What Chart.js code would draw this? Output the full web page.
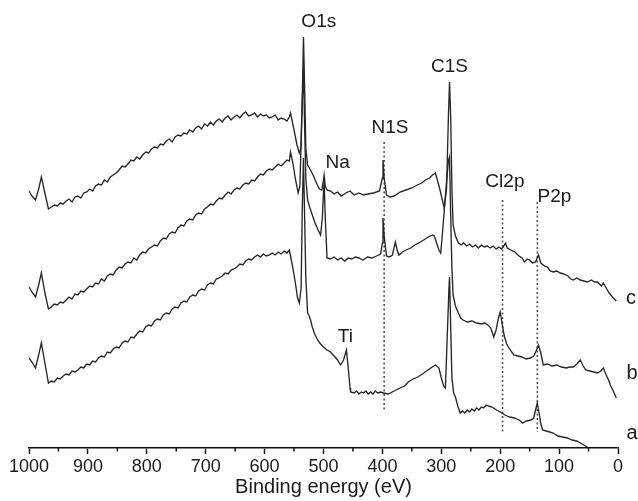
<!DOCTYPE html>
<html>
<head>
<meta charset="utf-8">
<script src="https://cdn.jsdelivr.net/npm/chart.js@4.4.1/dist/chart.umd.min.js"></script>
<style>
  html, body { margin: 0; padding: 0; background: #fff; }
</style>
</head>
<body>
<canvas id="xpsChart" width="638" height="501"></canvas>
<script>
// spectrum a (bottom)
const energyA = [
  1000, 995, 989, 984, 979, 973, 967, 962, 957, 952,
  947, 942, 937, 932, 927, 922, 917, 912, 907, 902,
  897, 892, 887, 882, 877, 872, 867, 862, 857, 852,
  847, 842, 837, 832, 827, 822, 817, 812, 807, 802,
  797, 792, 787, 782, 777, 772, 767, 762, 757, 752,
  747, 742, 737, 732, 727, 722, 717, 712, 707, 702,
  697, 692, 687, 682, 677, 672, 667, 662, 657, 652,
  647, 642, 637, 632, 627, 622, 617, 612, 607, 602,
  597, 592, 587, 582, 577, 572, 567, 562, 558, 556,
  552, 548, 544, 541, 538, 536, 534, 532, 530, 527,
  525, 522, 519, 515, 510, 505, 500, 494, 488, 482,
  476, 471, 466, 461, 458, 455, 454, 448, 444, 440,
  436, 432, 428, 424, 420, 416, 412, 408, 403, 398,
  390, 380, 370, 362, 356, 348, 340, 332, 325, 318,
  310, 304, 300, 296, 293, 290, 287, 286, 284, 282,
  279, 276, 272, 268, 264, 260, 256, 252, 248, 244,
  240, 236, 232, 228, 224, 220, 214, 206, 200, 192,
  184, 176, 168, 162, 155, 148, 143, 140, 137, 134,
  131, 128, 122, 116, 110, 102, 94, 86, 78, 70,
  64, 58, 52
];
const countsA = [
  90, 86, 80, 92, 105, 85, 65, 67, 66, 70,
  69, 72, 74, 73, 77, 76, 78, 81, 80, 84,
  83, 87, 86, 90, 92, 91, 96, 95, 99, 101,
  100, 105, 107, 106, 111, 110, 114, 117, 116, 121,
  123, 122, 127, 129, 128, 133, 135, 134, 139, 141,
  140, 145, 147, 146, 151, 153, 152, 157, 159, 158,
  163, 165, 164, 169, 170, 172, 175, 174, 178, 179,
  181, 184, 183, 187, 189, 188, 191, 193, 191, 194,
  192, 193, 195, 193, 196, 194, 197, 195, 198, 192,
  180, 166, 150, 145, 160, 240, 290, 230, 170, 135,
  133, 128, 121, 114, 108, 104, 101, 98, 96, 92,
  88, 83, 88, 98, 80, 60, 56, 55, 57, 54,
  56, 55, 57, 54, 56, 54, 57, 55, 56, 55,
  54, 57, 60, 62, 66, 69, 71, 74, 77, 80,
  83, 80, 70, 62, 60, 110, 160, 171, 120, 70,
  55, 51, 42, 35, 37, 35, 38, 36, 39, 37,
  40, 38, 41, 40, 43, 42, 41, 38, 36, 33,
  31, 30, 28, 25, 27, 28, 30, 38, 45, 35,
  24, 18, 17, 16, 15, 12, 11, 10, 8, 7,
  5, 3, 1
];

// spectrum b (middle)
const energyB = [
  1000, 995, 989, 984, 979, 973, 967, 962, 957, 952,
  947, 942, 937, 932, 927, 922, 917, 912, 907, 902,
  897, 892, 887, 882, 877, 872, 867, 862, 857, 852,
  847, 842, 837, 832, 827, 822, 817, 812, 807, 802,
  797, 792, 787, 782, 777, 772, 767, 762, 757, 752,
  747, 742, 737, 732, 727, 722, 717, 712, 707, 702,
  697, 692, 687, 682, 677, 672, 667, 662, 657, 652,
  647, 642, 637, 632, 627, 622, 617, 612, 607, 602,
  597, 592, 587, 582, 577, 572, 567, 562, 558, 556,
  552, 548, 543, 540, 537, 534, 532, 530, 527, 523,
  519, 515, 510, 505, 502, 499, 497, 494, 488, 482,
  476, 470, 464, 458, 452, 446, 440, 433, 425, 418,
  410, 403, 400, 399, 397, 393, 388, 383, 378, 375,
  372, 366, 360, 352, 345, 338, 330, 322, 315, 312,
  308, 304, 301, 298, 292, 288, 286, 284, 282, 280,
  276, 271, 267, 263, 256, 248, 240, 232, 226, 221,
  216, 211, 207, 203, 200, 197, 193, 189, 184, 177,
  170, 163, 156, 149, 143, 139, 135, 131, 127, 120,
  112, 104, 96, 88, 82, 76, 70, 64, 60, 55,
  48, 41, 35, 29, 25, 20, 16, 13, 8, 3
];
const countsB = [
  161, 156, 151, 162, 175, 155, 139, 141, 144, 143,
  146, 145, 148, 151, 149, 154, 153, 157, 156, 159,
  162, 161, 165, 164, 169, 167, 172, 174, 173, 178,
  181, 180, 184, 186, 185, 190, 188, 193, 196, 195,
  199, 201, 203, 202, 207, 210, 209, 214, 216, 215,
  220, 223, 222, 227, 229, 228, 233, 235, 234, 239,
  241, 244, 243, 247, 250, 249, 253, 256, 254, 258,
  260, 259, 263, 265, 264, 268, 267, 271, 274, 273,
  277, 279, 278, 281, 284, 282, 285, 288, 287, 296,
  285, 270, 255, 262, 330, 380, 320, 270, 248, 240,
  233, 226, 219, 213, 230, 268, 230, 190, 189, 191,
  188, 190, 187, 190, 189, 191, 190, 188, 191, 190,
  192, 194, 205, 230, 212, 192, 191, 193, 206, 198,
  193, 196, 198, 200, 203, 205, 208, 211, 213, 212,
  205, 198, 195, 215, 260, 287, 291, 230, 180, 153,
  142, 135, 130, 128, 126, 127, 125, 124, 125, 123,
  120, 111, 118, 130, 136, 125, 112, 104, 99, 93,
  92, 91, 89, 90, 92, 97, 103, 95, 83, 84,
  82, 83, 81, 80, 81, 81, 84, 88, 83, 78,
  77, 76, 75, 77, 80, 73, 68, 63, 57, 50
];

// spectrum c (top)
const energyC = [
  1000, 995, 989, 984, 979, 973, 967, 962, 957, 952,
  947, 942, 937, 932, 927, 922, 917, 912, 907, 902,
  897, 892, 887, 882, 877, 872, 867, 862, 857, 852,
  847, 842, 837, 832, 827, 822, 817, 812, 807, 802,
  797, 792, 787, 782, 777, 772, 767, 762, 757, 752,
  747, 742, 737, 732, 727, 722, 717, 712, 707, 702,
  697, 692, 687, 682, 677, 672, 667, 662, 657, 652,
  647, 642, 637, 632, 627, 622, 617, 612, 607, 602,
  597, 592, 587, 582, 577, 572, 567, 562, 558, 556,
  550, 545, 541, 538, 535, 534, 532, 530, 527, 522,
  517, 512, 507, 503, 500, 499, 497, 494, 488, 482,
  476, 470, 462, 455, 448, 440, 432, 425, 415, 405,
  400, 399, 397, 393, 387, 380, 370, 360, 350, 341,
  333, 327, 320, 315, 310, 303, 295, 291, 288, 286,
  284, 282, 280, 276, 271, 266, 262, 257, 252, 247,
  242, 237, 232, 227, 222, 217, 212, 207, 202, 198,
  195, 191, 188, 182, 175, 168, 163, 159, 154, 150,
  145, 140, 135, 131, 125, 120, 115, 110, 104, 98,
  92, 85, 80, 76, 70, 64, 58, 52, 45, 40,
  35, 28, 25, 20, 15, 8, 3
];
const countsC = [
  257, 252, 248, 258, 271, 255, 239, 241, 243, 242,
  245, 244, 247, 249, 246, 251, 252, 250, 255, 256,
  259, 257, 262, 264, 263, 268, 266, 271, 273, 275,
  278, 282, 281, 284, 288, 287, 291, 289, 293, 296,
  295, 299, 301, 300, 304, 303, 307, 309, 306, 311,
  313, 312, 315, 314, 318, 316, 320, 322, 319, 324,
  322, 326, 323, 327, 329, 326, 330, 332, 328, 331,
  333, 330, 334, 336, 332, 333, 335, 331, 334, 332,
  333, 330, 331, 333, 328, 330, 329, 327, 331, 335,
  318, 303, 295, 300, 380, 411, 360, 300, 283, 278,
  272, 265, 259, 258, 268, 273, 262, 258, 257, 254,
  256, 252, 255, 257, 253, 255, 253, 254, 255, 257,
  270, 288, 270, 253, 251, 252, 256, 258, 260, 263,
  265, 268, 270, 273, 275, 260, 240, 260, 330, 366,
  330, 260, 223, 212, 205, 203, 205, 202, 204, 201,
  203, 200, 203, 201, 202, 200, 202, 199, 201, 199,
  201, 205, 200, 198, 196, 192, 190, 186, 189, 188,
  185, 186, 193, 185, 182, 181, 177, 176, 177, 175,
  174, 172, 169, 168, 170, 168, 167, 166, 168, 166,
  166, 162, 165, 160, 155, 150, 147
];

// dotted guide lines (eV) and their extent
const guideEnergy = [397, 196, 137];
const guideTop = [306, 248, 246];
const guideBottom = [36, 15, 16];

// peak / curve annotations
const peakLabels = ['O1s', 'C1S', 'N1S', 'Na', 'Cl2p', 'P2p', 'Ti', 'c', 'b', 'a'];
const labelEnergy = [508, 286, 387, 476, 192, 108, 463, -22, -24, -24];
const labelHeight = [426, 381, 320, 285, 266, 251, 111, 150, 75, 15];

const minorTicks = [50, 150, 250, 350, 450, 550, 650, 750, 850, 950];

const FONT = '"Liberation Sans", Arial, Helvetica, sans-serif';

function toPoints(xs, ys) {
    return xs.map((e, i) => ({ x: e, y: ys[i] }));
}

const spectrumStyle = {
    borderColor: '#262626',
    borderWidth: 1.35,
    pointRadius: 0,
    tension: 0,
    fill: false
};

const datasets = [
    { label: 'a', data: toPoints(energyA, countsA), ...spectrumStyle },
    { label: 'b', data: toPoints(energyB, countsB), ...spectrumStyle },
    { label: 'c', data: toPoints(energyC, countsC), ...spectrumStyle }
];
guideEnergy.forEach((e, i) => {
    datasets.push({
        label: 'guide' + i,
        data: [{ x: e, y: guideTop[i] }, { x: e, y: guideBottom[i] }],
        borderColor: '#555',
        borderWidth: 1.6,
        borderDash: [2, 2.5],
        pointRadius: 0
    });
});

// labels and minor ticks
const annotate = {
    id: 'annotate',
    afterDraw(chart) {
        const { ctx, chartArea } = chart;
        const xs = chart.scales.x, ys = chart.scales.y;
        ctx.save();
        ctx.fillStyle = '#1a1a1a';
        ctx.textAlign = 'center';
        ctx.textBaseline = 'middle';
        peakLabels.forEach((t, i) => {
            ctx.font = (i >= 7 ? '20px ' : '19px ') + FONT;
            ctx.fillText(t, xs.getPixelForValue(labelEnergy[i]), ys.getPixelForValue(labelHeight[i]));
        });
        ctx.strokeStyle = '#111';
        ctx.lineWidth = 1.5;
        minorTicks.forEach(v => {
            const px = xs.getPixelForValue(v);
            ctx.beginPath();
            ctx.moveTo(px, chartArea.bottom);
            ctx.lineTo(px, chartArea.bottom + 3.5);
            ctx.stroke();
        });
        ctx.restore();
    }
};

const ctx = document.getElementById('xpsChart').getContext('2d');
new Chart(ctx, {
    type: 'line',
    data: { datasets: datasets },
    options: {
        responsive: false,
        animation: false,
        layout: { padding: { left: 29, right: 20, top: 0, bottom: 0 } },
        plugins: {
            legend: { display: false },
            tooltip: { enabled: false }
        },
        scales: {
            x: {
                type: 'linear',
                reverse: true,
                min: 0,
                max: 1000,
                afterFit(scale) { scale.height = 53; },
                border: { display: true, color: '#111', width: 1.6 },
                grid: {
                    drawOnChartArea: false,
                    drawTicks: true,
                    tickLength: 6,
                    tickWidth: 1.5,
                    tickColor: c => (c.tick && c.tick.value % 100 === 0) ? '#111' : 'rgba(0,0,0,0)'
                },
                ticks: {
                    stepSize: 50,
                    autoSkip: false,
                    maxRotation: 0,
                    padding: 2,
                    color: '#1a1a1a',
                    font: { family: FONT, size: 18 },
                    callback: v => (v % 100 === 0 ? String(v) : '')
                },
                title: {
                    display: true,
                    text: 'Binding energy (eV)',
                    color: '#1a1a1a',
                    font: { family: FONT, size: 20 },
                    padding: { top: 0, bottom: 2 }
                }
            },
            y: {
                display: false,
                min: 0,
                max: 448
            }
        }
    },
    plugins: [annotate]
});
</script>
</body>
</html>
